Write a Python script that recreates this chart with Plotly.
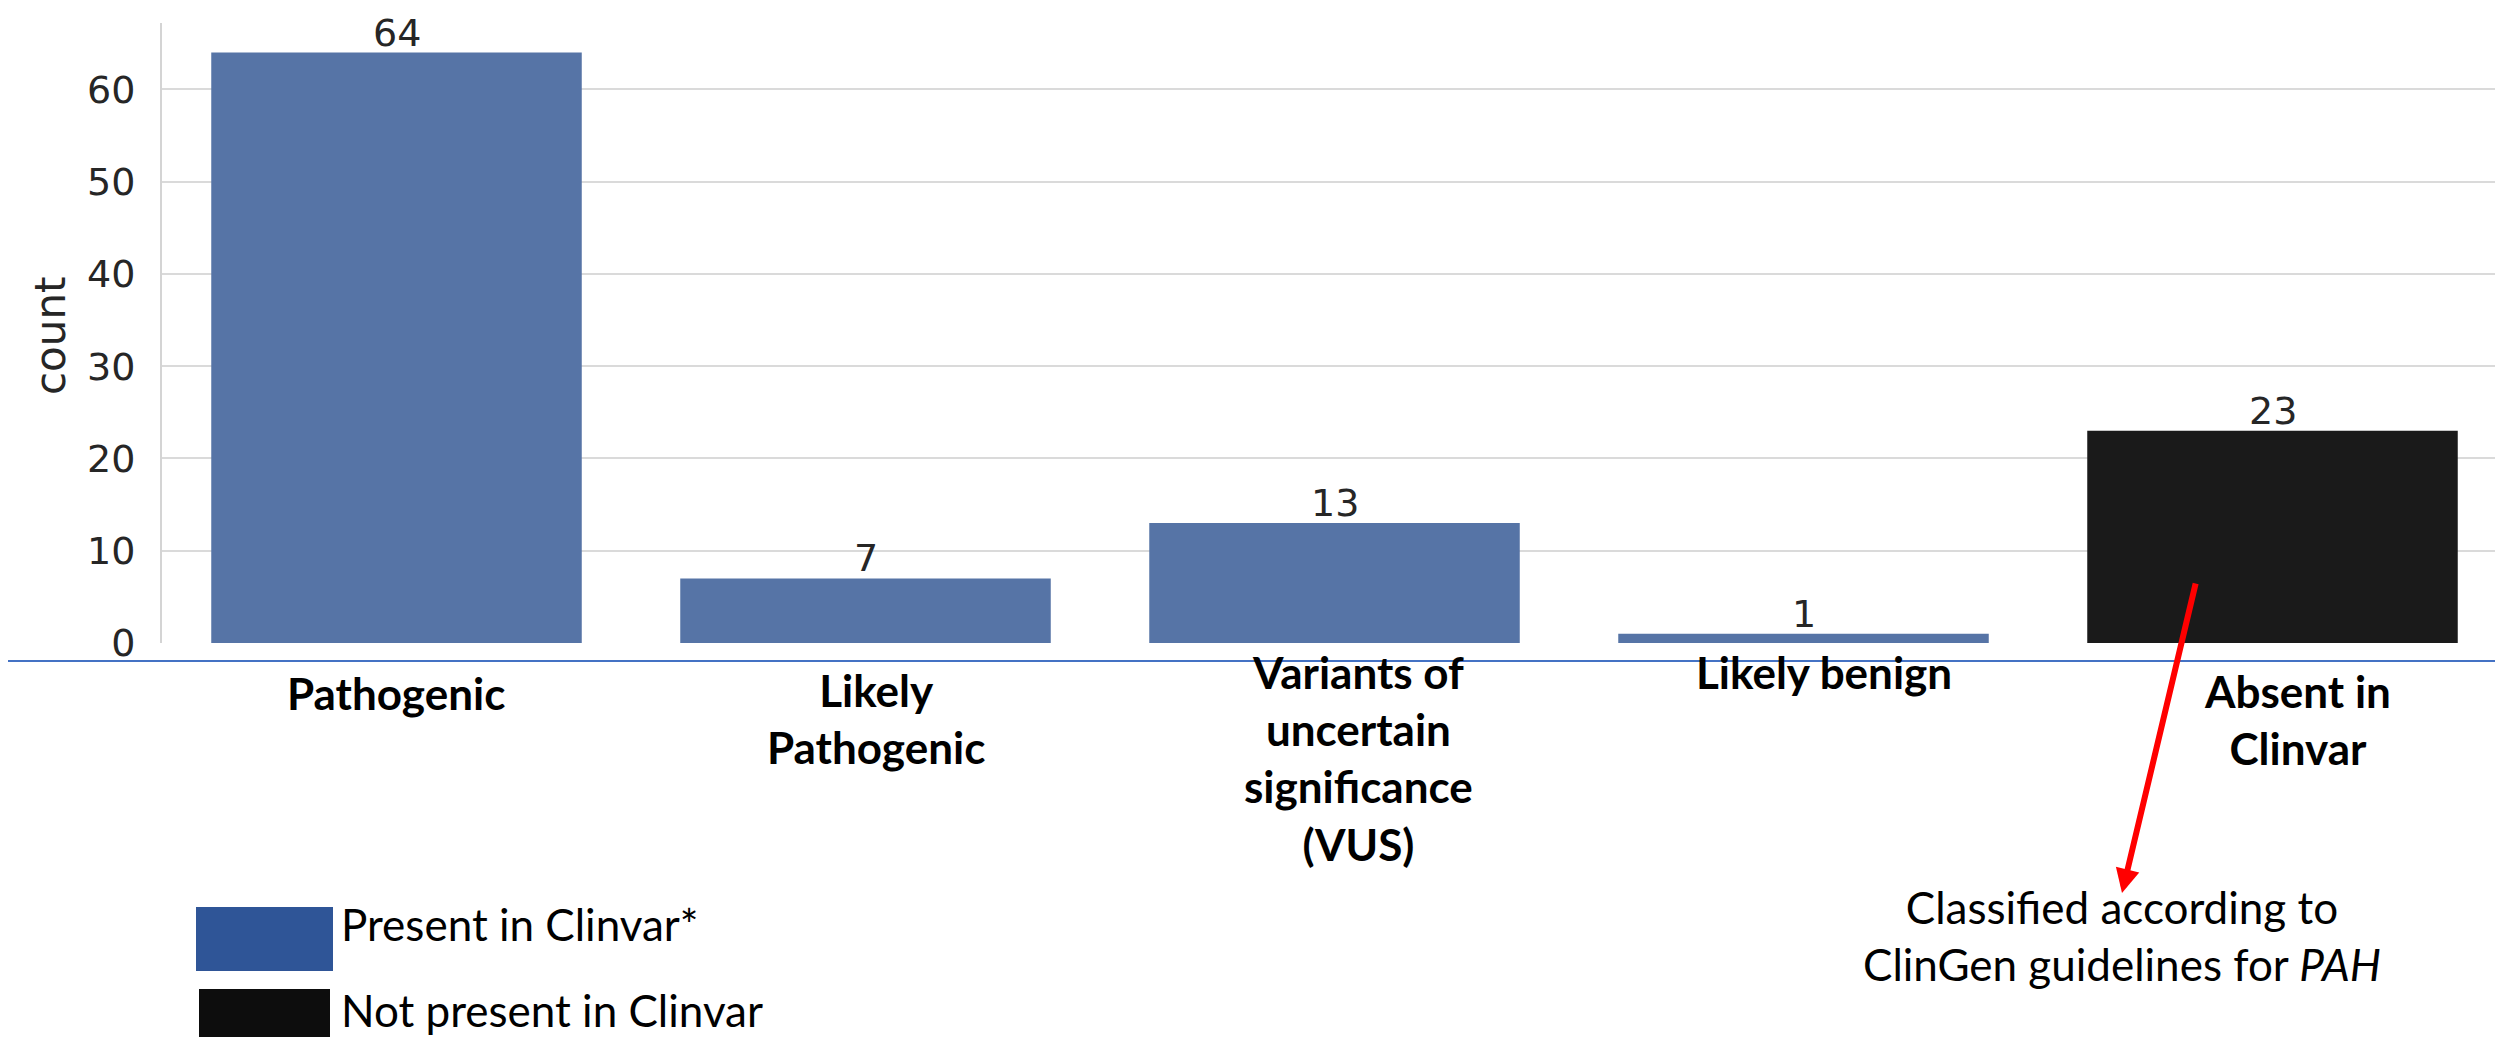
import plotly.graph_objects as go

# ---------------- data ----------------
categories = ["Pathogenic", "Likely Pathogenic", "Variants of uncertain significance (VUS)",
              "Likely benign", "Absent in Clinvar"]
counts = [64, 7, 13, 1, 23]
in_clinvar = [True, True, True, True, False]
cat_labels = ["Pathogenic", "Likely<br>Pathogenic", "Variants of<br>uncertain<br>significance<br>(VUS)",
              "Likely benign", "Absent in<br>Clinvar"]
y_ticks = [0, 10, 20, 30, 40, 50, 60]
legend_labels = ["Present in Clinvar*", "Not present in Clinvar"]
note_text = "Classified according to<br>ClinGen guidelines for <i>PAH</i>"

# ---------------- layout geometry (pixels) ----------------
W, H = 2503, 1037
L, R, T, B = 154, 4, 15, 402
PW, PH = W - L - R, H - T - B
Y0 = T + PH  # pixel row of y=0


def px(xp):
    return (xp - L) / PW


def py(yp):
    return (Y0 - yp) / PH


BLUE_BAR = "#5674A6"
BLACK_BAR = "#1A1A1A"
BLUE_LEG = "#2F5597"
BLACK_LEG = "#0D0D0D"
TXT = "#262626"
PPT_FONT = "Lato"

fig = go.Figure()
present_x = [c for c, f in zip(categories, in_clinvar) if f]
present_y = [v for v, f in zip(counts, in_clinvar) if f]
absent_x = [c for c, f in zip(categories, in_clinvar) if not f]
absent_y = [v for v, f in zip(counts, in_clinvar) if not f]

fig.add_trace(go.Bar(x=present_x, y=present_y, name=legend_labels[0], marker_color=BLUE_BAR,
                     marker_line_width=0))
fig.add_trace(go.Bar(x=absent_x, y=absent_y, name=legend_labels[1], marker_color=BLACK_BAR,
                     marker_line_width=0))

# value labels above bars
for c, v in zip(categories, counts):
    fig.add_annotation(text=str(v), x=c, y=v, xref="x", yref="y", showarrow=False,
                       xanchor="center", yanchor="bottom", yshift=-4,
                       font=dict(family="DejaVu Sans", size=38, color=TXT))

fig.update_layout(
    width=W, height=H,
    margin=dict(l=L, r=R, t=T, b=B),
    paper_bgcolor="white", plot_bgcolor="white",
    showlegend=False,
    bargap=0.21,
    barmode="overlay",
    font=dict(family="DejaVu Sans", color=TXT),
)
fig.update_xaxes(categoryorder="array", categoryarray=categories, range=[-0.5, 4.5],
                 showticklabels=False, showgrid=False, zeroline=False, showline=False, ticks="")
fig.update_yaxes(range=[0, 67.2], tickvals=y_ticks, showgrid=True, gridcolor="#DADADA", gridwidth=2,
                 zeroline=False, showline=True, linecolor="#D4D4D4", linewidth=2,
                 tickfont=dict(family="DejaVu Sans", size=38, color=TXT), ticks="",
                 ticklabelstandoff=17)

# y title
fig.add_annotation(text="count", textangle=-90, xref="paper", yref="paper", x=px(42), y=py(328),
                   showarrow=False, font=dict(family="DejaVu Sans", size=42, color=TXT),
                   xanchor="center", yanchor="middle")

# blue separator line
fig.add_shape(type="line", xref="paper", yref="paper", x0=px(0), x1=px(W), y0=py(653), y1=py(653),
              line=dict(color="#4472C4", width=2))

# category labels (separate text boxes)
label_x_shift = [-1, 10, 24, 20, 25]
label_y_center = [685, 710, 750, 664, 711]
for c, lab, dx, yc in zip(categories, cat_labels, label_x_shift, label_y_center):
    fig.add_annotation(text="<b>" + lab + "</b>", x=c, xref="x", yref="paper", y=py(yc),
                       xshift=dx, showarrow=False, align="center",
                       font=dict(family=PPT_FONT, size=44, color="black"),
                       xanchor="center", yanchor="middle")

# red arrow
fig.add_annotation(text="", xref="paper", yref="paper", x=px(2114), y=py(885),
                   ax=2188 - 2114, ay=574 - 885, axref="pixel", ayref="pixel",
                   showarrow=True, arrowhead=2, arrowsize=0.8, arrowwidth=6, arrowcolor="#FF0000")

# note text
fig.add_annotation(text=note_text, xref="paper", yref="paper", x=px(2114), y=py(927),
                   showarrow=False, align="center", xanchor="center", yanchor="middle",
                   font=dict(family=PPT_FONT, size=44, color="black"))

# custom legend
leg_boxes = [(188, 899, 325, 963, BLUE_LEG), (191, 981, 322, 1045, BLACK_LEG)]
leg_text_y = [916, 1002]
for (x0, y0, x1, y1, col), lab, ty in zip(leg_boxes, legend_labels, leg_text_y):
    fig.add_shape(type="rect", xref="paper", yref="paper", x0=px(x0), x1=px(x1), y0=py(y1), y1=py(y0),
                  fillcolor=col, line=dict(width=0))
    fig.add_annotation(text=lab, xref="paper", yref="paper", x=px(331), y=py(ty), showarrow=False,
                       xanchor="left", yanchor="middle",
                       font=dict(family=PPT_FONT, size=44, color="black"))

fig.write_html("out.html")
